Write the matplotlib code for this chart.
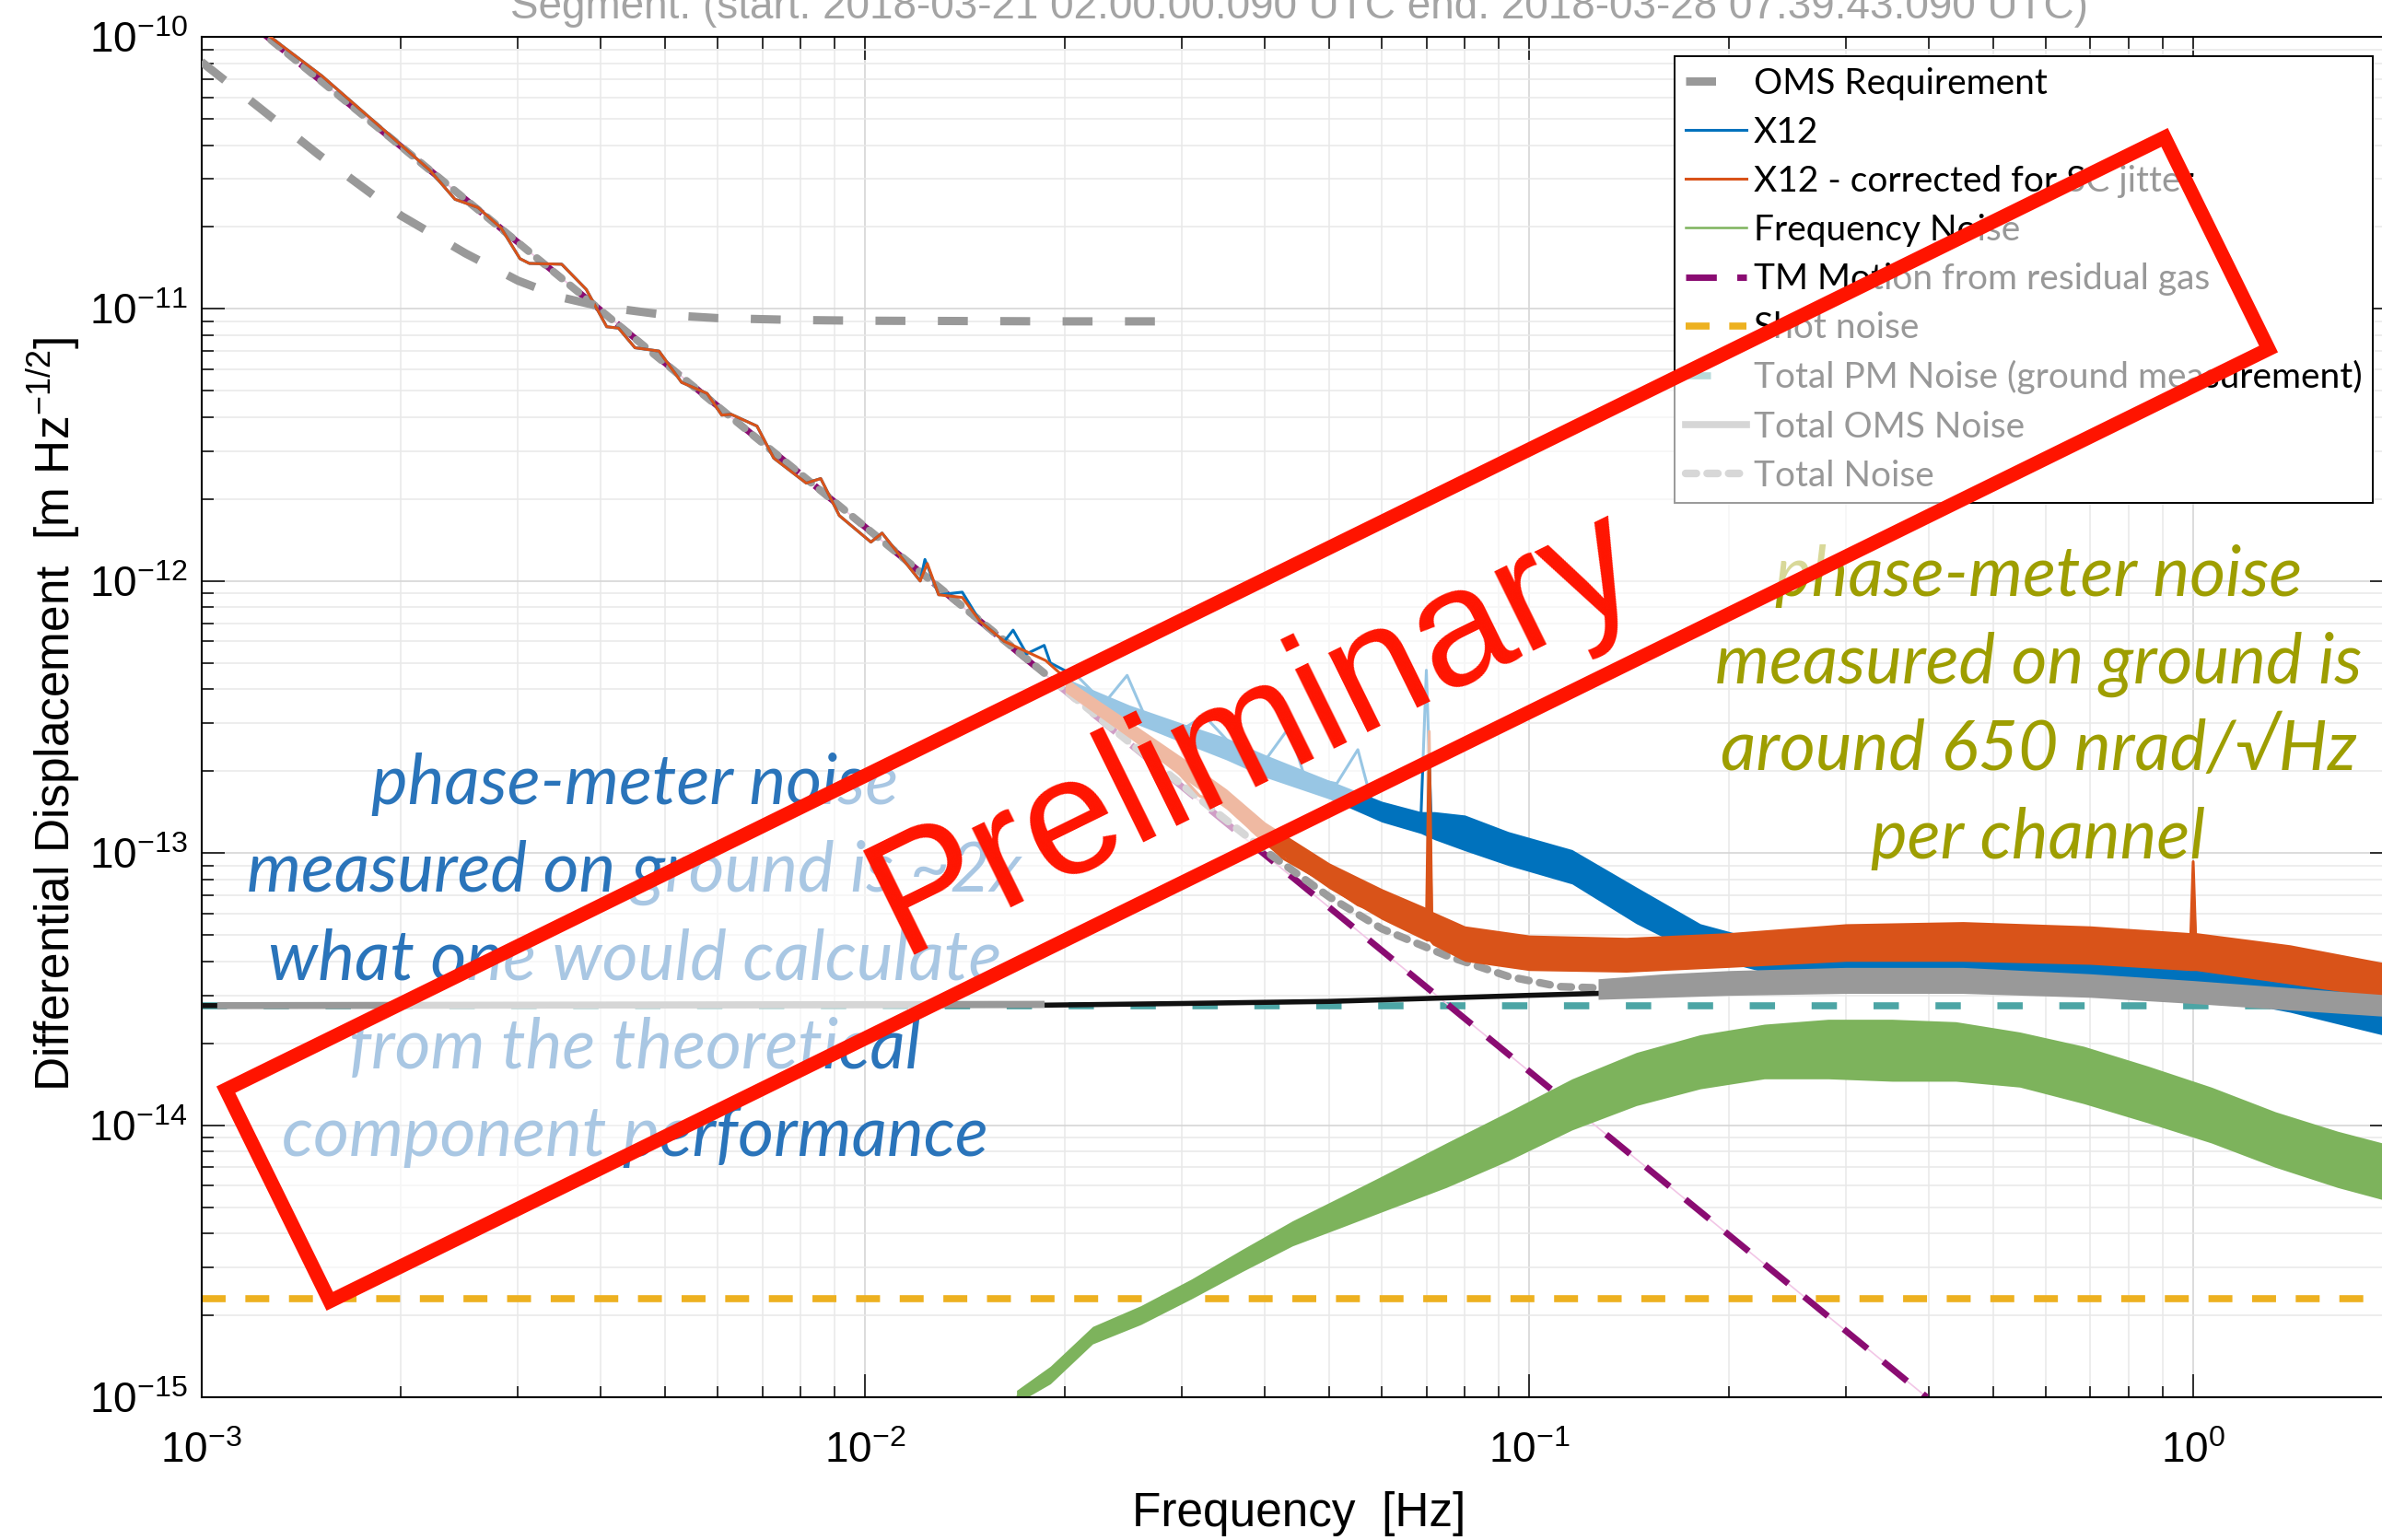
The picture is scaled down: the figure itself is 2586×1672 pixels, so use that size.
import numpy as np
import matplotlib
matplotlib.use("Agg")
import matplotlib.pyplot as plt
from matplotlib.patches import Polygon

plt.rcParams['font.family'] = ['Liberation Sans', 'DejaVu Sans']
plt.rcParams['mathtext.fontset'] = 'custom'
plt.rcParams['mathtext.rm'] = 'Liberation Sans'
plt.rcParams['mathtext.default'] = 'regular'
plt.rcParams['axes.unicode_minus'] = False

# --- values: frequency [Hz], ASD [m/sqrt(Hz)] ---
req_f = [1e-3, 1.2e-3, 1.5e-3, 2e-3, 2.5e-3, 3e-3, 3.5e-3, 4e-3, 5e-3, 6e-3, 8e-3, 1e-2, 2e-2, 2.9e-2]
req_v = [8.1e-11, 5.7e-11, 3.7e-11, 2.2e-11, 1.6e-11, 1.27e-11, 1.1e-11, 1.02e-11, 9.5e-12,
         9.25e-12, 9.1e-12, 9.05e-12, 9.0e-12, 9.0e-12]

x12_f = [1.2e-3, 1.27e-3, 1.52e-3, 1.975e-3, 2.21e-3, 2.41e-3, 2.61e-3, 2.83e-3, 3.02e-3, 3.12e-3,
         3.49e-3, 3.80e-3, 4.08e-3, 4.25e-3, 4.50e-3, 4.89e-3, 5.29e-3, 5.78e-3, 6.08e-3, 6.28e-3,
         6.87e-3, 7.28e-3, 8.15e-3, 8.57e-3, 9.14e-3, 1.02e-2, 1.06e-2, 1.21e-2, 1.23e-2, 1.29e-2,
         1.40e-2, 1.49e-2, 1.62e-2, 1.67e-2, 1.75e-2, 1.86e-2, 0.019, 0.021, 0.0229, 0.0248, 0.0265,
         0.0297, 0.0324, 0.0356, 0.0398, 0.0435, 0.0459, 0.0513, 0.0552, 0.0583, 0.064, 0.0687,
         0.070, 0.0712, 0.0797, 0.0933, 0.116, 0.145, 0.181, 0.226, 0.282, 0.4, 0.548, 0.8, 1.065,
         1.4, 1.85, 2.0]
x12_v = [1.12e-10, 1.0e-10, 7.18e-11, 4.11e-11, 3.23e-11, 2.53e-11, 2.36e-11, 1.98e-11, 1.53e-11,
         1.47e-11, 1.46e-11, 1.18e-11, 8.6e-12, 8.5e-12, 7.2e-12, 7.0e-12, 5.37e-12, 4.89e-12,
         4.07e-12, 4.1e-12, 3.71e-12, 2.83e-12, 2.29e-12, 2.38e-12, 1.74e-12, 1.39e-12, 1.5e-12,
         1.0e-12, 1.2e-12, 8.9e-13, 9.1e-13, 7.1e-13, 6.0e-13, 6.6e-13, 5.4e-13, 5.8e-13, 5.0e-13,
         4.4e-13, 3.55e-13, 4.5e-13, 3.1e-13, 2.8e-13, 3.2e-13, 2.5e-13, 2.15e-13, 2.9e-13, 1.9e-13,
         1.8e-13, 2.4e-13, 1.45e-13, 1.37e-13, 1.36e-13, 4.7e-13, 1.3e-13, 1.2e-13, 1.04e-13,
         9.0e-14, 6.4e-14, 4.8e-14, 4.2e-14, 3.9e-14, 3.8e-14, 3.8e-14, 3.6e-14, 3.4e-14, 3.0e-14,
         2.6e-14, 2.5e-14]
x12_band_f = [0.02, 0.025, 0.03, 0.035, 0.04, 0.05, 0.06, 0.0687, 0.072, 0.08, 0.093, 0.116, 0.145,
              0.181, 0.226, 0.282, 0.4, 0.55, 0.8, 1.065, 1.4, 1.85, 2.0]
x12_band_lo = [4.0e-13, 3.05e-13, 2.55e-13, 2.2e-13, 1.9e-13, 1.58e-13, 1.3e-13, 1.18e-13, 1.12e-13,
               1.02e-13, 9.0e-14, 7.7e-14, 5.5e-14, 4.2e-14, 3.65e-14, 3.45e-14, 3.3e-14, 3.3e-14,
               3.1e-14, 2.95e-14, 2.6e-14, 2.2e-14, 2.1e-14]
x12_band_hi = [4.4e-13, 3.5e-13, 3.0e-13, 2.65e-13, 2.3e-13, 1.85e-13, 1.55e-13, 1.42e-13, 1.42e-13,
               1.38e-13, 1.2e-13, 1.03e-13, 7.5e-14, 5.5e-14, 4.75e-14, 4.45e-14, 4.35e-14, 4.35e-14,
               4.15e-14, 3.9e-14, 3.5e-14, 3.0e-14, 2.9e-14]

cor_f = [1.2e-3, 1.27e-3, 1.52e-3, 1.975e-3, 2.21e-3, 2.41e-3, 2.61e-3, 2.83e-3, 3.02e-3, 3.12e-3,
         3.49e-3, 3.80e-3, 4.08e-3, 4.25e-3, 4.50e-3, 4.89e-3, 5.29e-3, 5.78e-3, 6.08e-3, 6.28e-3,
         6.87e-3, 7.28e-3, 8.15e-3, 8.57e-3, 9.14e-3, 1.02e-2, 1.06e-2, 1.21e-2, 1.24e-2, 1.29e-2,
         1.40e-2, 1.49e-2, 1.62e-2, 1.87e-2, 2.21e-2, 2.46e-2, 2.85e-2, 3.19e-2, 3.55e-2, 3.82e-2,
         4.28e-2, 4.86e-2, 5.52e-2, 6.27e-2, 6.75e-2, 7.0e-2, 7.07e-2, 7.14e-2, 7.97e-2, 9.55e-2,
         0.138, 0.2, 0.352, 0.6, 0.99, 1.0, 1.01, 1.4, 1.88, 2.0]
cor_v = [1.12e-10, 1.0e-10, 7.18e-11, 4.11e-11, 3.23e-11, 2.53e-11, 2.36e-11, 1.98e-11, 1.53e-11,
         1.47e-11, 1.46e-11, 1.18e-11, 8.6e-12, 8.5e-12, 7.2e-12, 7.0e-12, 5.37e-12, 4.89e-12,
         4.07e-12, 4.1e-12, 3.71e-12, 2.83e-12, 2.29e-12, 2.38e-12, 1.74e-12, 1.39e-12, 1.5e-12,
         1.0e-12, 1.16e-12, 8.9e-13, 8.7e-13, 7.1e-13, 6.0e-13, 5.1e-13, 3.55e-13, 2.78e-13,
         2.19e-13, 1.62e-13, 1.5e-13, 1.21e-13, 9.5e-14, 7.95e-14, 6.45e-14, 5.7e-14, 5.2e-14,
         5.2e-14, 2.8e-13, 5.0e-14, 4.65e-14, 4.26e-14, 4.1e-14, 4.3e-14, 4.6e-14, 4.5e-14, 4.4e-14,
         9.3e-14, 4.4e-14, 3.9e-14, 3.4e-14, 3.3e-14]
cor_band_f = [0.02, 0.025, 0.03, 0.035, 0.04, 0.05, 0.06, 0.07, 0.0707, 0.0715, 0.08, 0.1, 0.14,
              0.2, 0.3, 0.45, 0.7, 0.99, 1.0, 1.01, 1.4, 2.0]
cor_band_lo = [3.9e-13, 2.65e-13, 1.9e-13, 1.45e-13, 1.08e-13, 7.4e-14, 5.7e-14, 4.75e-14, 4.75e-14,
               4.6e-14, 4.0e-14, 3.7e-14, 3.65e-14, 3.8e-14, 4.0e-14, 4.0e-14, 3.9e-14, 3.7e-14,
               3.7e-14, 3.7e-14, 3.3e-14, 2.9e-14]
cor_band_hi = [4.4e-13, 3.05e-13, 2.25e-13, 1.72e-13, 1.3e-13, 9.2e-14, 7.4e-14, 6.3e-14, 2.8e-13,
               6.1e-14, 5.4e-14, 5.0e-14, 4.9e-14, 5.1e-14, 5.5e-14, 5.6e-14, 5.4e-14, 5.1e-14,
               9.3e-14, 5.1e-14, 4.6e-14, 3.9e-14]

freq_f = [0.0169, 0.019, 0.022, 0.026, 0.031, 0.037, 0.044, 0.052, 0.06, 0.075, 0.093, 0.116,
          0.145, 0.181, 0.226, 0.282, 0.352, 0.439, 0.548, 0.684, 0.854, 1.065, 1.33, 1.65, 2.0]
freq_v = [1.0e-15, 1.2e-15, 1.69e-15, 2.0e-15, 2.5e-15, 3.2e-15, 4.0e-15, 4.8e-15, 5.6e-15, 7.1e-15,
          9.1e-15, 1.2e-14, 1.48e-14, 1.7e-14, 1.89e-14, 1.93e-14, 1.93e-14, 1.89e-14, 1.76e-14,
          1.53e-14, 1.29e-14, 1.08e-14, 8.8e-15, 7.5e-15, 6.6e-15]
freq_lo = [0.95e-15, 1.12e-15, 1.57e-15, 1.85e-15, 2.3e-15, 2.9e-15, 3.6e-15, 4.2e-15, 4.8e-15,
           5.9e-15, 7.4e-15, 9.6e-15, 1.18e-14, 1.36e-14, 1.48e-14, 1.48e-14, 1.45e-14, 1.45e-14,
           1.38e-14, 1.2e-14, 1.02e-14, 8.6e-15, 7.0e-15, 5.9e-15, 5.2e-15]
freq_hi = [1.06e-15, 1.3e-15, 1.82e-15, 2.17e-15, 2.72e-15, 3.5e-15, 4.45e-15, 5.45e-15, 6.5e-15,
           8.6e-15, 1.12e-14, 1.48e-14, 1.85e-14, 2.15e-14, 2.35e-14, 2.45e-14, 2.45e-14, 2.4e-14,
           2.2e-14, 1.95e-14, 1.65e-14, 1.38e-14, 1.12e-14, 9.5e-15, 8.4e-15]

gas_f = [1e-3, 0.397]
gas_v = [1.58e-10, 1.0e-15]

shot_f = [1e-3, 2.0]
shot_v = [2.31e-15, 2.31e-15]

pm_f = [1e-3, 2.0]
pm_v = [2.74e-14, 2.74e-14]

oms_f = [1.07e-3, 1.84e-2]
oms_v = [2.75e-14, 2.78e-14]
oms_band_f = [0.127, 0.16, 0.2, 0.3, 0.45, 0.7, 1.0, 1.4, 2.0]
oms_band_lo = [2.9e-14, 2.95e-14, 3.0e-14, 3.05e-14, 3.05e-14, 2.95e-14, 2.8e-14, 2.65e-14, 2.5e-14]
oms_band_hi = [3.45e-14, 3.6e-14, 3.7e-14, 3.8e-14, 3.8e-14, 3.6e-14, 3.4e-14, 3.2e-14, 3.0e-14]

blk_f = [1e-3, 1.84e-2, 0.03, 0.05, 0.08, 0.1, 0.127, 0.2, 0.4, 0.8, 1.4, 2.0]
blk_v = [2.75e-14, 2.76e-14, 2.8e-14, 2.85e-14, 2.95e-14, 3.0e-14, 3.05e-14, 3.2e-14, 3.3e-14,
         3.2e-14, 2.9e-14, 2.75e-14]

tot_f = [1e-3, 2e-3, 5e-3, 0.01, 0.02, 0.03, 0.04, 0.05, 0.06, 0.075, 0.093, 0.111, 0.15, 0.3,
         0.6, 1.0, 2.0]
tot_v = [1.58e-10, 3.95e-11, 6.3e-12, 1.58e-12, 3.97e-13, 1.78e-13, 1.02e-13, 6.9e-14, 5.27e-14,
         4.2e-14, 3.52e-14, 3.23e-14, 3.15e-14, 3.35e-14, 3.3e-14, 3.1e-14, 2.8e-14]

labels = ["OMS Requirement", "X12", "X12 - corrected for SC jitter", "Frequency Noise",
          "TM Motion from residual gas", "Shot noise", "Total PM Noise (ground measurement)",
          "Total OMS Noise", "Total Noise"]

blue_note = ["phase-meter noise", "measured on ground is ~2x", "what one would calculate",
             "from the theoretical", "component performance"]
olive_note = ["phase-meter noise", "measured on ground is", "around 650 nrad/\u221aHz", "per channel"]

title = "Segment: (start: 2018-03-21 02:00:00.090 UTC end: 2018-03-28 07:39:43.090 UTC)"

W, H = 2586, 1672
fig = plt.figure(figsize=(W / 100, H / 100), dpi=100)
ax = fig.add_axes([218.5 / W, 1 - 1517 / H, (2598 - 218.5) / W, (1517 - 40) / H])
ax.set_xscale('log')
ax.set_yscale('log')

c_blue, c_orange, c_green = '#0072BD', '#D95319', '#7DB35C'
c_purple, c_yellow, c_teal, c_grey = '#8A0C72', '#EDB120', '#4CA5A5', '#999999'

h_pm, = ax.plot(pm_f, pm_v, color=c_teal, lw=5.5, dashes=(3.6, 5.2), zorder=2, label=labels[6])
h_shot, = ax.plot(shot_f, shot_v, color=c_yellow, lw=5.5, dashes=(3.4, 2.8), zorder=2, label=labels[5])
ax.plot(gas_f, gas_v, color='#f2c6e6', lw=1.2, zorder=2)
h_gas, = ax.plot(gas_f, gas_v, color=c_purple, lw=5.0, dashes=(4.8, 3.2), zorder=2.2, label=labels[4])
h_tot, = ax.plot(tot_f, tot_v, color='#9c9c9c', lw=6.0, dashes=(1.4, 1.4), dash_capstyle='round',
                 zorder=2.4, label=labels[8])

ax.fill_between(freq_f, freq_lo, freq_hi, color=c_green, lw=0, zorder=2.5)
h_freq, = ax.plot(freq_f, freq_v, color=c_green, lw=1.8, zorder=2.5, label=labels[3])

ax.fill_between(x12_band_f, x12_band_lo, x12_band_hi, color=c_blue, lw=0, zorder=3)
h_x12, = ax.plot(x12_f, x12_v, color=c_blue, lw=2.2, zorder=3, label=labels[1])
ax.fill_between(cor_band_f, cor_band_lo, cor_band_hi, color=c_orange, lw=0, zorder=3.2)
h_cor, = ax.plot(cor_f, cor_v, color=c_orange, lw=2.2, zorder=3.2, label=labels[2])

ax.plot(blk_f, blk_v, color='#111111', lw=4.0, zorder=3.4)
h_oms, = ax.plot(oms_f, oms_v, color=c_grey, lw=5.5, zorder=3.5, label=labels[7])
ax.fill_between(oms_band_f, oms_band_lo, oms_band_hi, color=c_grey, lw=0, zorder=3.5)

h_req, = ax.plot(req_f, req_v, color=c_grey, lw=6.5, dashes=(3.6, 3.9), zorder=3.8, label=labels[0])

ax.set_xlim(1e-3, 2)
ax.set_ylim(1e-15, 1e-10)
ax.set_axisbelow(True)
ax.grid(True, which='major', color='#d6d6d6', lw=1.2)
ax.grid(True, which='minor', color='#e8e8e8', lw=1.1)
ax.tick_params(which='both', direction='in', top=True, right=True, colors='black', width=1.1)
ax.tick_params(which='major', length=18, labelsize=33)
ax.tick_params(which='minor', length=9)
ax.tick_params(axis='x', which='major', pad=27)
ax.tick_params(axis='y', which='major', pad=11)
ax.xaxis.set_minor_formatter(matplotlib.ticker.NullFormatter())
ax.yaxis.set_minor_formatter(matplotlib.ticker.NullFormatter())
for s in ax.spines.values():
    s.set_linewidth(1.5)

handles = [h_req, h_x12, h_cor, h_freq, h_gas, h_shot, h_pm, h_oms, h_tot]
leg = ax.legend(handles, labels, loc='upper right', bbox_to_anchor=(2576 / W, 1 - 61 / H),
                bbox_transform=fig.transFigure, borderaxespad=0, fancybox=False,
                framealpha=1, edgecolor='black', handlelength=1.7, handletextpad=0.2,
                borderpad=0.3, labelspacing=0.44, prop={'family': 'Lato', 'size': 28})
leg.get_frame().set_linewidth(1.4)
leg.set_zorder(10)

fig.text(1410 / W, 1 - 1644 / H, "Frequency  [Hz]", ha='center', va='center', fontsize=37)
fig.text(58 / W, 1 - 775 / H, r"Differential Displacement  [m Hz$^{-1/2}$]", ha='center',
         va='center', rotation=90, fontsize=37)
fig.text(1410 / W, 1 - 20 / H, title, ha='center', va='baseline', fontsize=33, color='#a4a4a4')

for line, yp in zip(blue_note, [851, 947, 1042, 1138, 1233]):
    fig.text(689 / W, 1 - yp / H, line, ha='center', va='center', fontsize=54, style='italic',
             color='#2A74BA', family=['Lato', 'DejaVu Sans'])
for line, yp in zip(olive_note, [625, 721, 815, 910]):
    fig.text(2213 / W, 1 - yp / H, line, ha='center', va='center', fontsize=54, style='italic',
             color='#9E9E00', family=['Lato', 'DejaVu Sans'])

# "Preliminary" stamp: translucent white box with red border over the whole plot
cx, cy, L, Wd, ang = 1354, H - 781, 2345, 256, np.deg2rad(26.16)
u = np.array([np.cos(ang), np.sin(ang)])
v = np.array([np.sin(ang), -np.cos(ang)])
c = np.array([cx, cy])
corners = [c - L / 2 * u - Wd / 2 * v, c + L / 2 * u - Wd / 2 * v,
           c + L / 2 * u + Wd / 2 * v, c - L / 2 * u + Wd / 2 * v]
corners = [(p[0] / W, p[1] / H) for p in corners]
stamp = Polygon(corners, closed=True, transform=fig.transFigure, facecolor=(1, 1, 1, 0.6),
                edgecolor='#FF1400', lw=11, joinstyle='miter', zorder=20)
fig.patches.append(stamp)
fig.text(1362 / W, 1 - 796 / H, "Preliminary", rotation=26.16, rotation_mode='anchor',
         ha='center', va='center', fontsize=130, color='#FF1400', zorder=21)

fig.savefig("out.png", dpi=100)
